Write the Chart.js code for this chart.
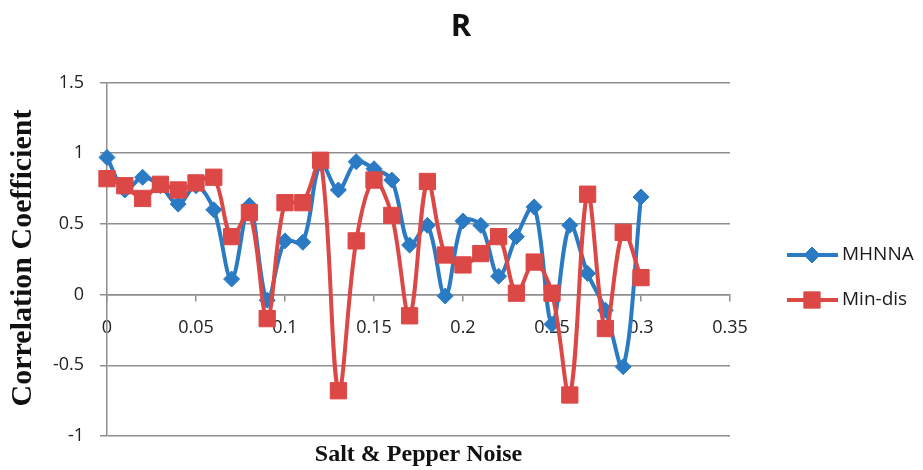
<!DOCTYPE html>
<html>
<head>
<meta charset="utf-8">
<script src="https://cdn.jsdelivr.net/npm/chart.js@4/dist/chart.umd.min.js"></script>
<style>
  html, body { margin: 0; padding: 0; background: #fff; }
  #wrap { width: 923px; height: 470px; }
</style>
</head>
<body>
<div id="wrap"><canvas id="dataChart" width="923" height="470"></canvas></div>
<script>
// noise level (x) and correlation values
var noise = [0, 0.01, 0.02, 0.03, 0.04, 0.05, 0.06, 0.07, 0.08, 0.09, 0.10,
             0.11, 0.12, 0.13, 0.14, 0.15, 0.16, 0.17, 0.18, 0.19, 0.20,
             0.21, 0.22, 0.23, 0.24, 0.25, 0.26, 0.27, 0.28, 0.29, 0.30];
var mhnna = [0.97, 0.74, 0.83, 0.77, 0.64, 0.77, 0.60, 0.11, 0.63, -0.04, 0.38,
             0.37, 0.93, 0.74, 0.94, 0.89, 0.81, 0.35, 0.49, -0.01, 0.52,
             0.49, 0.13, 0.41, 0.62, -0.21, 0.49, 0.15, -0.11, -0.51, 0.69];
var minDis = [0.82, 0.77, 0.68, 0.78, 0.74, 0.79, 0.83, 0.41, 0.58, -0.17, 0.65,
              0.65, 0.95, -0.68, 0.38, 0.81, 0.56, -0.15, 0.80, 0.28, 0.21,
              0.29, 0.41, 0.01, 0.23, 0.01, -0.71, 0.71, -0.24, 0.44, 0.12];
var seriesNames = ['MHNNA', 'Min-dis'];
var xTicks = { min: 0, max: 0.35, step: 0.05 };
var yTicks = { min: -1, max: 1.5, step: 0.5 };

var BLUE = '#2a7bc4';
var RED = '#dc4846';
var GRID = '#8e8e8e';

function toPoints(values) {
    return values.map(function(v, i) { return { x: noise[i], y: v }; });
}

// title, axis titles and legend drawn on the canvas
var extras = {
    id: 'extras',
    afterDraw: function(chart) {
        var c = chart.ctx;
        var area = chart.chartArea;
        c.save();
        c.fillStyle = '#111';
        c.textAlign = 'center';
        c.textBaseline = 'middle';
        c.font = 'bold 31px "Open Sans"';
        c.fillText('R', 461, 27);

        c.font = 'bold 24px "Liberation Serif"';
        c.fillText('Salt & Pepper Noise', (area.left + area.right) / 2, 455);

        c.translate(23, 258);
        c.rotate(-Math.PI / 2);
        c.font = 'bold 30px "Liberation Serif"';
        c.fillText('Correlation Coefficient', 0, 0);
        c.restore();

        var rows = [255, 300];
        chart.data.datasets.forEach(function(ds, i) {
            var y = rows[i];
            c.save();
            c.strokeStyle = ds.borderColor;
            c.lineWidth = 4;
            c.beginPath();
            c.moveTo(787, y);
            c.lineTo(838, y);
            c.stroke();
            c.fillStyle = ds.backgroundColor;
            c.lineWidth = 1;
            Chart.helpers.drawPoint(c, {
                pointStyle: ds.pointStyle, radius: ds.pointRadius, borderWidth: 1
            }, 812, y);
            c.fillStyle = '#1a1a1a';
            c.font = '19px "Open Sans"';
            c.textAlign = 'left';
            c.textBaseline = 'middle';
            c.fillText(ds.label, 842, y);
            c.restore();
        });
    }
};

var ctx = document.getElementById('dataChart').getContext('2d');

var myChart = new Chart(ctx, {
    type: 'line',
    data: {
        datasets: [
            {
                label: seriesNames[0],
                data: toPoints(mhnna),
                borderColor: BLUE,
                backgroundColor: BLUE,
                borderWidth: 4,
                pointStyle: 'rectRot',
                pointRadius: 8,
                pointBorderWidth: 1,
                tension: 0.35,
                order: 1,
                clip: false
            },
            {
                label: seriesNames[1],
                data: toPoints(minDis),
                borderColor: RED,
                backgroundColor: RED,
                borderWidth: 4,
                pointStyle: 'rect',
                pointRadius: 11.5,
                pointBorderWidth: 1,
                tension: 0.35,
                order: 0,
                clip: false
            }
        ]
    },
    options: {
        responsive: false,
        animation: false,
        devicePixelRatio: 1,
        layout: { padding: { left: 0, right: 193, top: 82.5, bottom: 34 } },
        plugins: {
            legend: { display: false },
            tooltip: { enabled: false },
            title: { display: false }
        },
        scales: {
            x: {
                type: 'linear',
                position: { y: 0 },
                min: xTicks.min,
                max: xTicks.max,
                ticks: {
                    stepSize: xTicks.step,
                    color: '#222',
                    font: { family: '"Open Sans"', size: 18 },
                    padding: 16,
                    maxRotation: 0,
                    callback: function(v) { return String(Number(v.toFixed(2))); }
                },
                grid: {
                    drawOnChartArea: false,
                    drawTicks: true,
                    tickLength: 6,
                    color: GRID,
                    lineWidth: 1.5
                },
                border: { display: true, color: GRID, width: 1.5 }
            },
            y: {
                min: yTicks.min,
                max: yTicks.max,
                afterFit: function(scale) { scale.width = 107; },
                ticks: {
                    stepSize: yTicks.step,
                    color: '#222',
                    font: { family: '"Open Sans"', size: 18 },
                    padding: 16,
                    callback: function(v) { return String(Number(v.toFixed(2))); }
                },
                grid: {
                    color: GRID,
                    lineWidth: 1.5,
                    drawTicks: true,
                    tickLength: 7
                },
                border: { display: true, color: GRID, width: 1.5 }
            }
        }
    },
    plugins: [extras]
});
</script>
</body>
</html>
